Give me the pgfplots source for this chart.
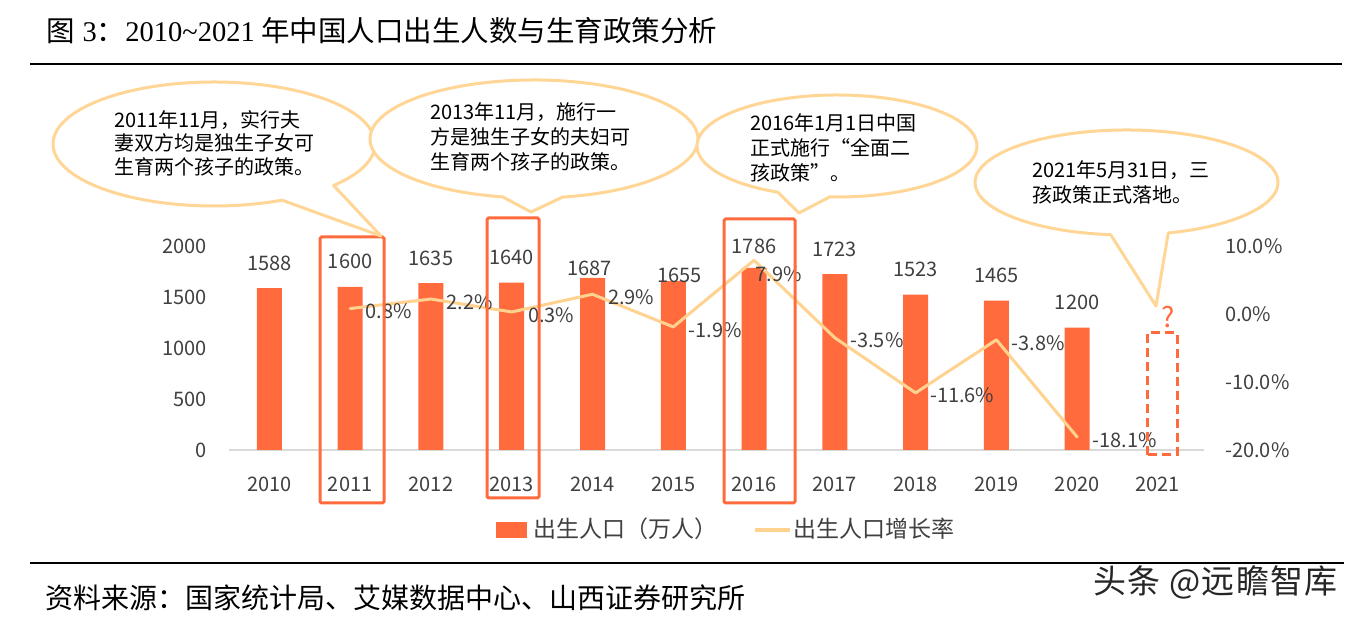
\documentclass[border=0pt]{standalone}
\usepackage{pgfplots}
\pgfplotsset{compat=1.18}
\usepackage{pgfplotstable}
\usepackage{fontspec}
\setmainfont{Noto Sans CJK SC}
\newfontfamily\tnr{Liberation Serif}
\newfontfamily\wm[LetterSpace=4]{Noto Sans CJK SC}
\definecolor{barc}{RGB}{255,107,61}
\definecolor{gline}{RGB}{255,211,143}
\definecolor{bub}{RGB}{255,214,150}
\definecolor{txt}{RGB}{64,64,64}
\definecolor{axgray}{RGB}{217,217,217}
\newcommand\fs[1]{\fontsize{#1}{#1}\selectfont}

\pgfplotstableread{
x y lx ly
2010 1588 0 25
2011 1600 0 25
2012 1635 0 25
2013 1640 0 25
2014 1687 -3 10
2015 1655 6 6
2016 1786 0 21
2017 1723 0 25
2018 1523 0 25
2019 1465 0 25
2020 1200 0 25
}\births

\pgfplotstableread{
x g lx ly
2011 0.8 14 -3
2012 2.2 14 -3
2013 0.3 15 -3
2014 2.9 14 -3
2015 -1.9 14 -3
2016 7.9 0 -14
2017 -3.5 14 -2
2018 -11.6 13 -2
2019 -3.8 14 -3
2020 -18.1 14 -3
}\growth

\pgfplotsset{
  /pgf/number format/1000 sep={},
  /pgf/number format/assume math mode=true,
  base/.style={
    at={(229pt,170pt)}, anchor=south west, scale only axis,
    width=975pt, height=204pt,
    xmin=2009.5, xmax=2021.57,
    clip=false,
    major tick length=0pt,
    axis line style={-},
    tick label style={font=\fs{20}, text=txt, inner sep=0pt},
    scaled ticks=false,
  },
}

\begin{document}
\begin{tikzpicture}
\begin{scope}[x=1pt,y=1pt]
\fill[white] (0,0) rectangle (1358,620);
\path[use as bounding box] (0,0) rectangle (1358,620);
% title
\node[anchor=base west, inner sep=0pt, font=\fs{28.5}] at (46,578)
  {图\hspace{8pt}{\tnr 3}：{\tnr 2010\textasciitilde 2021} 年中国人口出生人数与生育政策分析};
\draw[black, line width=2.5pt] (30,556) -- (1342,556);
\end{scope}

% bars
\begin{axis}[base,
  ymin=0, ymax=2000,
  axis x line*=bottom, axis y line*=left,
  y axis line style={draw=none},
  x axis line style={draw=axgray, line width=2pt},
  xtick={2010,...,2021},
  ytick={0,500,1000,1500,2000},
  xticklabel style={anchor=center, yshift=-34pt},
  yticklabel style={anchor=east, xshift=-22pt},
]
\addplot[ybar, bar width=25pt, fill=barc, draw=none,
  visualization depends on={\thisrow{lx} \as \labx},
  visualization depends on={\thisrow{ly} \as \laby},
  nodes near coords,
  every node near coord/.append style={anchor=center, inner sep=0pt,
     xshift=\labx pt, yshift=\laby pt, font=\fs{20}, text=txt},
] table[x=x, y=y] {\births};
\end{axis}

% growth rate
\begin{axis}[base,
  ymin=-20, ymax=10,
  axis x line=none, axis y line*=right,
  y axis line style={draw=none},
  ytick={-20,-10,0,10},
  yticklabel={\pgfmathprintnumber[fixed,fixed zerofill,precision=1]{\tick}\%},
  yticklabel style={anchor=west, xshift=21pt},
]
\addplot[gline, line width=3pt, line join=round, line cap=round, mark=none,
  visualization depends on={\thisrow{lx} \as \labx},
  visualization depends on={\thisrow{ly} \as \laby},
  nodes near coords={\pgfmathprintnumber[fixed,fixed zerofill,precision=1]{\pgfplotspointmeta}\%},
  every node near coord/.append style={anchor=west, inner sep=0pt,
     xshift=\labx pt, yshift=\laby pt, font=\fs{20}, text=txt},
] table[x=x, y=g] {\growth};
\end{axis}

\begin{scope}[x=1pt,y=1pt]
% highlight boxes
\draw[barc, line width=3pt, rounded corners=1.5pt] (320,117) rectangle (384,383);
\draw[barc, line width=3pt, rounded corners=1.5pt] (487,122) rectangle (539,402);
\draw[barc, line width=3pt, rounded corners=1.5pt] (724,117) rectangle (795,401);
\draw[barc, line width=3pt, dash pattern=on 9pt off 5pt] (1147,165) rectangle (1177,287);
\node[font=\fs{28}, text=barc, inner sep=0pt] at (1168,303) {?};

% callouts
\draw[bub, line width=3pt, fill=white, line join=round]
  (381,384) -- ([shift={(-42:161pt and 62pt)}]214,476)
  arc[start angle=-42, end angle=295, x radius=161pt, y radius=62pt] -- cycle;
\draw[bub, line width=3pt, fill=white, line join=round]
  (531,408) -- ([shift={(-80:164pt and 59pt)}]534,481)
  arc[start angle=-80, end angle=259, x radius=164pt, y radius=59pt] -- cycle;
\draw[bub, line width=3pt, fill=white, line join=round]
  (799,407) -- ([shift={(-93:140pt and 51pt)}]837,474)
  arc[start angle=-93, end angle=245, x radius=140pt, y radius=51pt] -- cycle;
\draw[bub, line width=3pt, fill=white, line join=round]
  (1156,314) -- ([shift={(-74:151.5pt and 52.5pt)}]1126.5,437.5)
  arc[start angle=-74, end angle=264, x radius=151.5pt, y radius=52.5pt] -- cycle;

\begin{scope}[every node/.style={anchor=base west, inner sep=0pt, font=\fs{20}, text=black}]
\node at (114,492) {2011年11月，实行夫};
\node at (114,469) {妻双方均是独生子女可};
\node at (114,445) {生育两个孩子的政策。};
\node at (430,500) {2013年11月，施行一};
\node at (430,475) {方是独生子女的夫妇可};
\node at (430,450) {生育两个孩子的政策。};
\node at (750,489) {2016年1月1日中国};
\node at (750,464) {正式施行“全面二};
\node at (750,439) {孩政策”。};
\node at (1032,442) {2021年5月31日，三};
\node at (1032,417) {孩政策正式落地。};
\end{scope}

% legend
\fill[barc] (496,82) rectangle (527,98);
\node[anchor=base west, inner sep=0pt, font=\fs{23}, text=txt] at (533,82.3) {出生人口（万人）};
\draw[gline, line width=3.5pt] (755,90) -- (790,90);
\node[anchor=base west, inner sep=0pt, font=\fs{23}, text=txt] at (793,82.3) {出生人口增长率};

% bottom rule and source
\draw[black, line width=2.5pt] (30,57) -- (1344,57);
\node[anchor=base west, inner sep=0pt, font=\fs{28}] at (45,11.4)
  {资料来源：国家统计局、艾媒数据中心、山西证券研究所};
\node[anchor=base west, inner sep=0pt, font={\wm\fs{33}}, text=black!85] at (1093,26.6)
  {头条 @远瞻智库};
\end{scope}
\end{tikzpicture}
\end{document}
